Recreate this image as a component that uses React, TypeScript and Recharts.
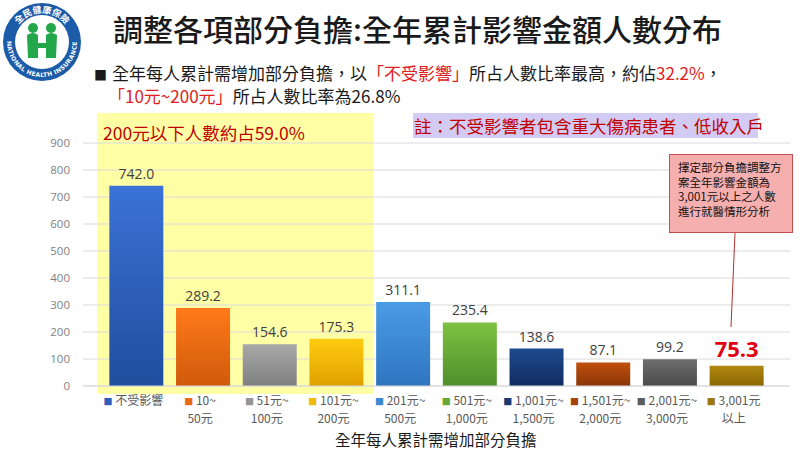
import React from "react";
import { BarChart, Bar, XAxis, YAxis, CartesianGrid, Cell, LabelList } from "recharts";

const tickTop = ["不受影響", "10~", "51元~", "101元~", "201元~", "501元~", "1,001元~", "1,501元~", "2,001元~", "3,001元"];
const tickBottom = ["", "50元", "100元", "200元", "500元", "1,000元", "1,500元", "2,000元", "3,000元", "以上"];
const categories = tickTop.map((t, i) => t + tickBottom[i]);
const people = [742.0, 289.2, 154.6, 175.3, 311.1, 235.4, 138.6, 87.1, 99.2, 75.3];
const yTicks = [0, 100, 200, 300, 400, 500, 600, 700, 800, 900];

const topColors = ["#3B72D6", "#FF7A1A", "#A8A8A8", "#FFCC10", "#4A9BE6", "#7DC242", "#1F4A8F", "#C0500E", "#6E6E6E", "#B08810"];
const bottomColors = ["#1F4E9E", "#CF5A0A", "#808080", "#E0A000", "#2F75C0", "#4E8F2A", "#102C60", "#8A3506", "#4A4A4A", "#8A6600"];
const swatch = ["#2E5FB8", "#E86A12", "#959595", "#F0B808", "#3D88D4", "#66A836", "#183B78", "#A4430A", "#5C5C5C", "#9E7808"];

const data = categories.map((c, i) => ({ name: c, value: people[i] }));

const cjk = '"Noto Sans CJK TC", "Noto Sans", sans-serif';
const red = "#C00000";

function AxisTick(props: any) {
  const { x, y, payload } = props;
  const i = categories.indexOf(payload.value);
  const cx = x - 3;
  return (
    <g>
      <text x={cx} y={y + 11} textAnchor="middle" fontSize={12} fill="#595959" fontFamily={cjk}>
        <tspan fill={swatch[i]} fontSize={9}>■</tspan>
        <tspan> {tickTop[i]}</tspan>
      </text>
      <text x={cx} y={y + 29} textAnchor="middle" fontSize={12} fill="#595959" fontFamily={cjk}>
        {tickBottom[i]}
      </text>
    </g>
  );
}

function ValueLabel(props: any) {
  const { x, y, width, value, index } = props;
  const last = index === people.length - 1;
  return (
    <text
      x={x + width / 2}
      y={last ? y - 9 : y - 7}
      textAnchor="middle"
      fontSize={last ? 22 : 14}
      fontWeight={last ? "bold" : "normal"}
      fill={last ? "#E00010" : "#404040"}
      fontFamily='"Open Sans", sans-serif'
    >
      {Number(value).toFixed(1)}
    </text>
  );
}

function Logo() {
  return (
    <svg width={84} height={84} style={{ position: "absolute", left: 0, top: 0 }}>
      <defs>
        <path id="arcTop" d="M 16.9 27.5 A 29 29 0 0 1 67.1 27.5" />
        <path id="arcBottom" d="M 9.1 30 A 35 35 0 1 0 74.9 30" />
      </defs>
      <circle cx={42} cy={42} r={39} fill="#1C5BA8" />
      <circle cx={42} cy={42} r={27} fill="#fff" />
      <text fontSize={9} fill="#fff" fontFamily={cjk} fontWeight="bold">
        <textPath href="#arcTop" startOffset="50%" textAnchor="middle">全民健康保險</textPath>
      </text>
      <text fontSize={6} fill="#fff" fontFamily='"DejaVu Sans", sans-serif' fontWeight="bold" letterSpacing={0.3}>
        <textPath href="#arcBottom" startOffset="50%" textAnchor="middle">NATIONAL HEALTH INSURANCE</textPath>
      </text>
      <circle cx={33} cy={28} r={5} fill="#22A84A" />
      <circle cx={51} cy={28} r={5} fill="#22A84A" />
      <path d="M 27 35 Q 33 31 38 35 L 38 58 L 28 58 Z" fill="#22A84A" />
      <path d="M 46 35 Q 51 31 57 35 L 56 58 L 46 58 Z" fill="#22A84A" />
      <rect x={36} y={43} width={12} height={5} fill="#22A84A" />
    </svg>
  );
}

export default function App() {
  return (
    <div style={{ position: "absolute", left: 0, top: 0, width: 800, height: 450, background: "#fff", overflow: "hidden", fontFamily: cjk }}>
      <Logo />
      <div style={{ position: "absolute", left: 113, top: 8, fontSize: 30, lineHeight: "40px", color: "#1a1a1a", fontWeight: 500, whiteSpace: "nowrap" }}>
        調整各項部分負擔:全年累計影響金額人數分布
      </div>
      <div style={{ position: "absolute", left: 94, top: 61, fontSize: 17, lineHeight: "23px", color: "#1a1a1a", whiteSpace: "nowrap" }}>
        <span style={{ fontSize: 13, marginRight: 5 }}>■</span>
        全年每人累計需增加部分負擔，以<span style={{ color: "#E02020" }}>「不受影響」</span>所占人數比率最高，約佔<span style={{ color: "#E02020" }}>32.2%</span>，
      </div>
      <div style={{ position: "absolute", left: 108, top: 84, fontSize: 17, lineHeight: "23px", color: "#1a1a1a", whiteSpace: "nowrap" }}>
        <span style={{ color: "#E02020" }}>「10元~200元」</span>所占人數比率為26.8%
      </div>
      <div style={{ position: "absolute", left: 97, top: 113, width: 276, height: 281, background: "#FFFFA6" }} />
      <div style={{ position: "absolute", left: 103, top: 121, fontSize: 17.5, lineHeight: "24px", color: red, whiteSpace: "nowrap" }}>
        200元以下人數約占59.0%
      </div>
      <div style={{ position: "absolute", left: 413, top: 113, width: 345, height: 25, background: "#D2CBF4", color: red, fontSize: 17.5, lineHeight: "25px", paddingLeft: 1, whiteSpace: "nowrap", boxSizing: "border-box" }}>
        註：不受影響者包含重大傷病患者、低收入戶
      </div>
      <div style={{ position: "absolute", left: 0, top: 0 }}>
        <BarChart width={800} height={450} data={data} margin={{ top: 143, right: 10, bottom: 0, left: 43 }} barCategoryGap="9.5%">
          <defs>
            {topColors.map((c, i) => (
              <linearGradient key={i} id={`g${i}`} x1="0" y1="0" x2="0" y2="1">
                <stop offset="0%" stopColor={c} />
                <stop offset="100%" stopColor={bottomColors[i]} />
              </linearGradient>
            ))}
          </defs>
          <CartesianGrid vertical={false} stroke="#D9D9D9" />
          <XAxis
            dataKey="name"
            height={64}
            padding={{ left: 20, right: 20 }}
            axisLine={{ stroke: "#D9D9D9" }}
            tickLine={false}
            tick={<AxisTick />}
            interval={0}
          />
          <YAxis
            width={40}
            domain={[0, 900]}
            ticks={yTicks}
            axisLine={false}
            tickLine={false}
            tickMargin={7}
            tick={{ fill: "#7F7F7F", fontSize: 11.5, fontFamily: '"Open Sans", sans-serif' }}
          />
          <Bar dataKey="value" isAnimationActive={false}>
            {data.map((d, i) => (
              <Cell key={d.name} fill={`url(#g${i})`} />
            ))}
            <LabelList dataKey="value" content={<ValueLabel />} />
          </Bar>
        </BarChart>
      </div>
      <svg width={800} height={450} style={{ position: "absolute", left: 0, top: 0, pointerEvents: "none" }}>
        <line x1={735} y1={233} x2={731} y2={327} stroke="#B03030" strokeWidth={1} />
      </svg>
      <div style={{ position: "absolute", left: 669, top: 154, width: 124, height: 79, background: "#F6AFAF", border: "1px solid #C0504D", boxSizing: "border-box", padding: "5px 0 0 8px", fontSize: 11.5, lineHeight: "14.5px", color: "#111" }}>
        擇定部分負擔調整方<br />案全年影響金額為<br />3,001元以上之人數<br />進行就醫情形分析
      </div>
      <div style={{ position: "absolute", left: 335, top: 429, fontSize: 15.5, lineHeight: "20px", color: "#1a1a1a", whiteSpace: "nowrap" }}>
        全年每人累計需增加部分負擔
      </div>
    </div>
  );
}
